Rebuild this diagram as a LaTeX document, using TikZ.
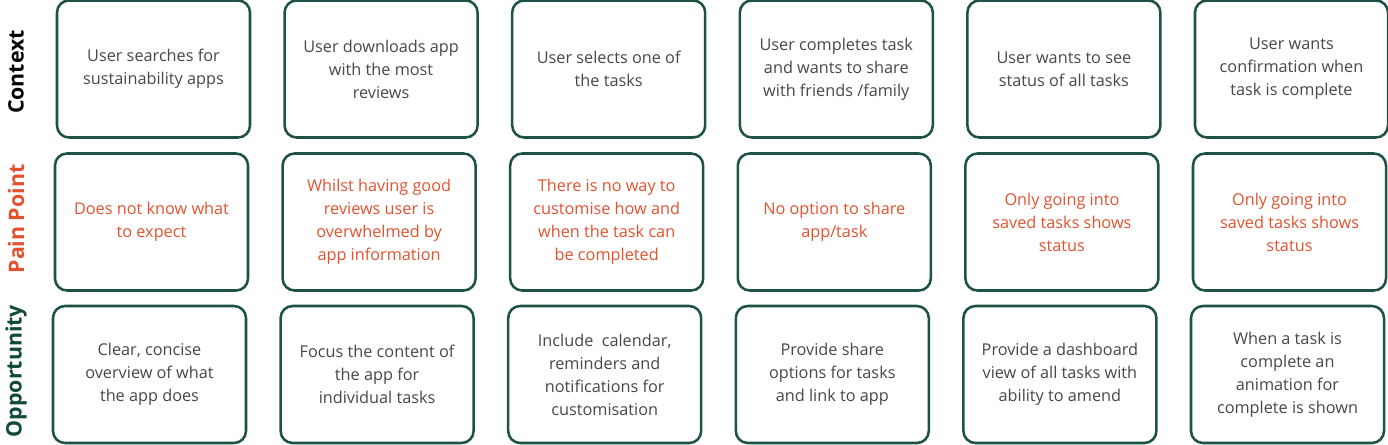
\documentclass[tikz,border=0pt]{standalone}
\usepackage{fontspec}
\setmainfont{Open Sans}
\usepackage{tikz}
\definecolor{boxgreen}{HTML}{1E5246}
\definecolor{textgray}{HTML}{474747}
\definecolor{painred}{HTML}{E2522F}
\definecolor{oppgreen}{HTML}{11493B}

\begin{document}
\begin{tikzpicture}[
  x=0.75pt, y=0.75pt,
  every node/.style={font=\fontsize{12.2}{17.2}\selectfont},
  card/.style={rounded corners=9pt, draw=boxgreen, line width=1.9pt, align=center, minimum width=144.75pt, minimum height=102.75pt, inner sep=0pt, text=textgray},
  pain/.style={card, text=painred},
  rowlabel/.style={rotate=90, font=\fontsize{16}{18}\selectfont\bfseries}
]
\useasboundingbox (0,0) rectangle (1388,444);
% row labels
\node[rowlabel, text=black] (lctx) at (16,372) {Context};
\node[rowlabel, text=painred] (lpain) at (16,225) {Pain Point};
\node[rowlabel, text=oppgreen] (lopp) at (16,73) {Opportunity};
% context
\node[card] (ctx1) at (153.5,375) {User searches for\\sustainability apps};
\node[card] (ctx2) at (381.1,375) {User downloads app\\with the most\\reviews};
\node[card] (ctx3) at (608.7,375) {User selects one of\\the tasks};
\node[card] (ctx4) at (836.3,375) {User completes task\\and wants to share\\with friends /family};
\node[card] (ctx5) at (1063.9,375) {User wants to see\\status of all tasks};
\node[card] (ctx6) at (1291.5,375) {User wants\\confirmation when\\task is complete};
% pain points
\node[pain] (pain1) at (151.5,222) {Does not know what\\to expect};
\node[pain] (pain2) at (379.1,222) {Whilst having good\\reviews user is\\overwhelmed by\\app information};
\node[pain] (pain3) at (606.7,222) {There is no way to\\customise how and\\when the task can\\be completed};
\node[pain] (pain4) at (834.3,222) {No option to share\\app/task};
\node[pain] (pain5) at (1061.9,222) {Only going into\\saved tasks shows\\status};
\node[pain] (pain6) at (1289.5,222) {Only going into\\saved tasks shows\\status};
% opportunities
\node[card] (opp1) at (149.5,69.5) {Clear, concise\\overview of what\\the app does};
\node[card] (opp2) at (377.1,69.5) {Focus the content of\\the app for\\individual tasks};
\node[card] (opp3) at (604.7,69.5) {Include\ \ calendar,\\reminders and\\notifications for\\customisation};
\node[card] (opp4) at (832.3,69.5) {Provide share\\options for tasks\\and link to app};
\node[card] (opp5) at (1059.9,69.5) {Provide a dashboard\\view of all tasks with\\ability to amend};
\node[card] (opp6) at (1287.5,69.5) {When a task is\\complete an\\animation for\\complete is shown};
\end{tikzpicture}
\end{document}
